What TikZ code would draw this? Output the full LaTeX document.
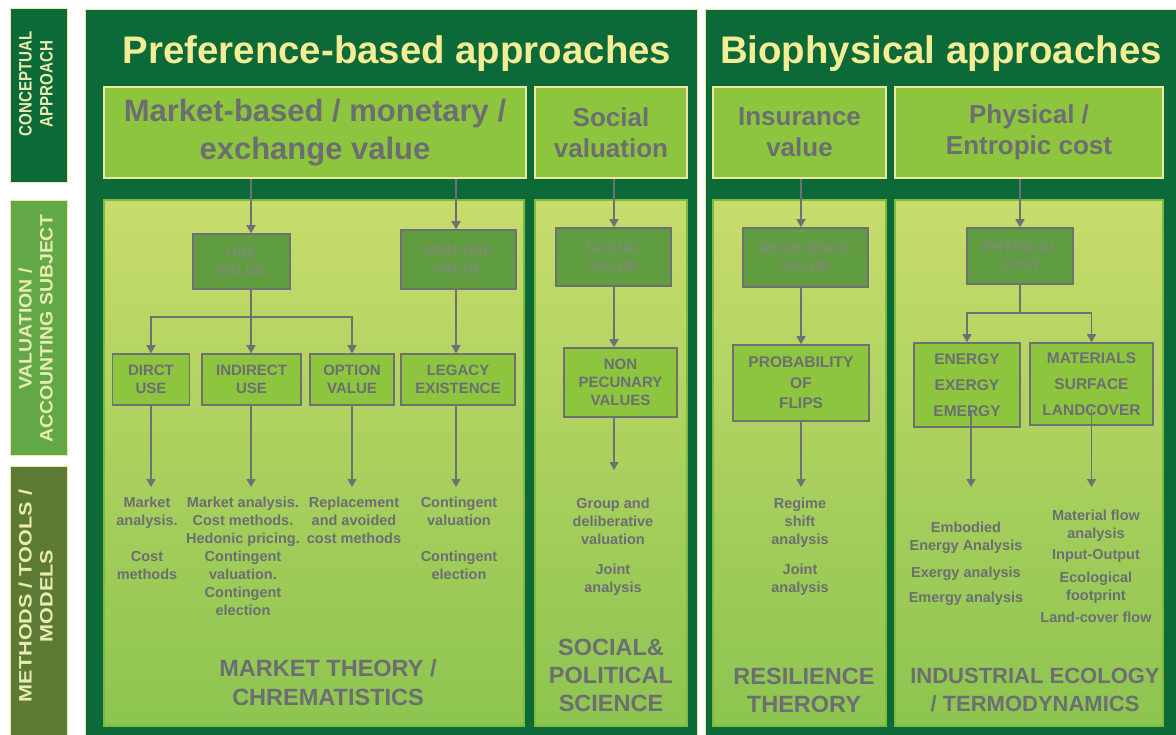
\documentclass[tikz,border=0pt]{standalone}
\usepackage{fontspec}
\setmainfont{Liberation Sans}
\usetikzlibrary{arrows.meta}
\definecolor{dkg}{RGB}{12,106,56}
\definecolor{ttl}{RGB}{245,236,150}
\definecolor{pale}{RGB}{236,232,160}
\definecolor{hdrg}{RGB}{141,197,62}
\definecolor{lgtop}{RGB}{199,220,108}
\definecolor{lgbot}{RGB}{141,196,80}
\definecolor{lgbd}{RGB}{128,186,60}
\definecolor{gtxt}{RGB}{108,110,114}
\definecolor{dboxc}{RGB}{96,156,64}
\definecolor{dtxt}{RGB}{124,140,112}
\definecolor{agray}{RGB}{110,112,116}
\definecolor{valg}{RGB}{98,168,72}
\definecolor{metg}{RGB}{92,122,52}
\definecolor{labt}{RGB}{232,236,176}
\begin{document}
\begin{tikzpicture}[x=1pt,y=-1pt,
  panel/.style={draw=pale,line width=1pt,fill=dkg},
  lab/.style={draw=pale,line width=1pt,inner sep=0pt},
  labtext/.style={text=labt,font=\fontsize{18}{21}\selectfont\bfseries,inner sep=0pt,rotate=90},
  title/.style={text=ttl,font=\fontsize{38.4}{44}\selectfont\bfseries,inner sep=0pt,anchor=base},
  hdr/.style={draw=pale,line width=1.2pt,fill=hdrg,text=gtxt,align=center,inner sep=0pt,font=\fontsize{26}{31}\selectfont\bfseries},
  lbox/.style={draw=lgbd,line width=1.5pt,top color=lgtop,bottom color=lgbot,inner sep=0pt},
  dbox/.style={draw=agray,line width=1.5pt,fill=dboxc,text=dtxt,align=center,inner sep=0pt,font=\fontsize{15}{18}\selectfont\bfseries},
  gbox/.style={draw=agray,line width=1.5pt,fill=hdrg,text=gtxt,align=center,inner sep=0pt,font=\fontsize{15}{18}\selectfont\bfseries},
  small/.style={text=gtxt,align=center,inner sep=0pt,anchor=north,font=\fontsize{14.5}{18}\selectfont\bfseries},
  big/.style={text=gtxt,align=center,inner sep=0pt,anchor=north,font=\fontsize{23.5}{28}\selectfont\bfseries},
  ln/.style={draw=agray,line width=1.6pt},
  arr/.style={draw=agray,line width=1.6pt,-{Triangle[length=8pt,width=9pt]}}]
\useasboundingbox (0,0) rectangle (1176,735);
\fill[white] (0,0) rectangle (1176,735);

% left category labels
\node[lab,fill=dkg,minimum width=57pt,minimum height=174pt] (lab1) at (38.5,96) {};
\node[lab,fill=valg,minimum width=57pt,minimum height=254pt] (lab2) at (38.5,328) {};
\node[lab,fill=metg,minimum width=57pt,minimum height=272pt] (lab3) at (38.5,602) {};
\node[labtext] (lab1t) at (38,84) {\scalebox{0.84}[1]{\begin{tabular}{@{}c@{}}CONCEPTUAL\\APPROACH\end{tabular}}};
\node[labtext] (lab2t) at (38,329) {\scalebox{1.08}[1]{\begin{tabular}{@{}c@{}}VALUATION /\\ACCOUNTING SUBJECT\end{tabular}}};
\node[labtext] (lab3t) at (38,596) {\scalebox{1.2}[1]{\begin{tabular}{@{}c@{}}METHODS / TOOLS /\\MODELS\end{tabular}}};

% main panels
\node[panel,minimum width=612pt,minimum height=726pt] (p1) at (391,373) {};
\node[panel,minimum width=472pt,minimum height=726pt] (p2) at (941,373) {};
\node[title] (t1) at (397,64) {Preference-based approaches};
\node[title] (t2) at (941,64) {Biophysical approaches};

% header boxes
\node[hdr,minimum width=422pt,minimum height=91pt,font=\fontsize{31}{38}\selectfont\bfseries] (h1) at (315,132.5) {Market-based / monetary /\\exchange value};
\node[hdr,minimum width=152pt,minimum height=91pt] (h2) at (611,132.5) {Social\\valuation};
\node[hdr,minimum width=173pt,minimum height=91pt] (h3) at (799.5,132.5) {Insurance\\value};
\node[hdr,minimum width=268pt,minimum height=91pt] (h4) at (1029,132.5) {Physical /\\Entropic cost};

% light boxes
\node[lbox,minimum width=420pt,minimum height=526pt] (L1) at (314,463) {};
\node[lbox,minimum width=152pt,minimum height=526pt] (L2) at (611,463) {};
\node[lbox,minimum width=173pt,minimum height=526pt] (L3) at (799.5,463) {};
\node[lbox,minimum width=268pt,minimum height=526pt] (L4) at (1029,463) {};

% helper coordinates
\coordinate (cu) at (251,0);
\coordinate (cn) at (456,0);
\coordinate (ae) at (0,487);
\coordinate (jn) at (251,317);
\coordinate (jp) at (1020,313);
\coordinate (cp) at (1020,0);

% ---- market column
\node[dbox,minimum width=97pt,minimum height=55pt] (use) at (241.5,261.5) {USE\\VALUE};
\node[dbox,minimum width=115pt,minimum height=59pt] (nonuse) at (458.5,259.5) {NON-USE\\VALUE};
\node[gbox,minimum width=77pt,minimum height=51pt] (dirct) at (151,379.5) {DIRCT\\USE};
\node[gbox,minimum width=99pt,minimum height=51pt] (indirect) at (251.5,379.5) {INDIRECT\\USE};
\node[gbox,minimum width=84pt,minimum height=51pt] (option) at (352,379.5) {OPTION\\VALUE};
\node[gbox,minimum width=114pt,minimum height=51pt] (legacy) at (458,379.5) {LEGACY\\EXISTENCE};

\draw[arr] (h1.south -| cu) -- (use.north -| cu);
\draw[arr] (h1.south -| cn) -- (nonuse.north -| cn);
\draw[ln] (use.south -| cu) -- (jn);
\draw[arr] (jn) -| (dirct.north);
\draw[arr] (jn) -- (indirect.north -| jn);
\draw[arr] (jn) -| (option.north);
\draw[arr] (nonuse.south -| cn) -- (legacy.north -| cn);
\draw[arr] (dirct.south) -- (dirct.south |- ae);
\draw[arr] (indirect.south -| cu) -- (ae -| cu);
\draw[arr] (option.south) -- (option.south |- ae);
\draw[arr] (legacy.south -| cn) -- (ae -| cn);

\node[small] (tx1) at (147,496.4) {Market\\analysis.\\[18pt]Cost\\methods};
\node[small] (tx2) at (243,496.4) {Market analysis.\\Cost methods.\\Hedonic pricing.\\Contingent\\valuation.\\Contingent\\election};
\node[small] (tx3) at (354,496.4) {Replacement\\and avoided\\cost methods};
\node[small] (tx4) at (459,496.4) {Contingent\\valuation\\[18pt]Contingent\\election};
\node[big,font=\fontsize{23.5}{29}\selectfont\bfseries] (mt) at (328,659) {MARKET THEORY /\\CHREMATISTICS};

% ---- social column
\node[dbox,minimum width=115pt,minimum height=58pt] (socval) at (613.5,257) {SOCIAL\\VALUE};
\node[gbox,minimum width=113pt,minimum height=69pt] (nonpec) at (620.5,382.5) {NON\\PECUNARY\\VALUES};
\coordinate (cs) at (614,0);
\draw[arr] (h2.south -| cs) -- (socval.north -| cs);
\draw[arr] (socval.south -| cs) -- (nonpec.north -| cs);
\draw[arr] (nonpec.south -| cs) -- (cs |- 0,470);
\node[small] (tx5) at (613,497.4) {Group and\\deliberative\\valuation\\[12pt]Joint\\analysis};
\node[big] (sps) at (611,639) {SOCIAL\&\\POLITICAL\\SCIENCE};

% ---- resilience column
\node[dbox,minimum width=125pt,minimum height=59pt] (resval) at (805.5,257.5) {RESILIENCE\\VALUE};
\node[gbox,minimum width=136pt,minimum height=76pt,font=\fontsize{15.5}{20.5}\selectfont\bfseries] (prob) at (801,383) {PROBABILITY\\OF\\FLIPS};
\coordinate (cr) at (801,0);
\draw[arr] (h3.south -| cr) -- (resval.north -| cr);
\draw[arr] (resval.south -| cr) -- (prob.north -| cr);
\draw[arr] (prob.south -| cr) -- (ae -| cr);
\node[small] (tx6) at (800,497.4) {Regime\\shift\\analysis\\[12pt]Joint\\analysis};
\node[big] (rt) at (804,668) {RESILIENCE\\THERORY};

% ---- industrial column
\node[dbox,minimum width=106pt,minimum height=56pt] (phys) at (1020,256) {PHYSICAL\\COST};
\node[gbox,minimum width=106pt,minimum height=84pt,font=\fontsize{15.5}{26}\selectfont\bfseries] (energy) at (967,385) {ENERGY\\EXERGY\\EMERGY};
\node[gbox,minimum width=123pt,minimum height=82pt,font=\fontsize{15.5}{26}\selectfont\bfseries] (mater) at (1091.5,384) {MATERIALS\\SURFACE\\LANDCOVER};
\draw[arr] (h4.south -| cp) -- (phys.north);
\draw[ln] (phys.south) -- (jp);
\draw[arr] (jp) -| (energy.north);
\draw[arr] (jp) -| (mater.north);
\draw[arr] ([xshift=4pt,yshift=17pt]energy.south) -- ([xshift=4pt]energy.south |- ae);
\draw[arr] ([yshift=17pt]mater.south) -- (mater.south |- ae);
\node[small] (tx7) at (966,521.4) {Embodied\\Energy Analysis\\[9pt]Exergy analysis\\[7pt]Emergy analysis};
\node[small] (tx8) at (1096,509.4) {Material flow\\analysis\\[3pt]Input-Output\\[5pt]Ecological\\footprint\\[4pt]Land-cover flow};
\node[big,font=\fontsize{22}{28}\selectfont\bfseries] (it) at (1035,668) {INDUSTRIAL ECOLOGY\\/ TERMODYNAMICS};
\end{tikzpicture}
\end{document}
